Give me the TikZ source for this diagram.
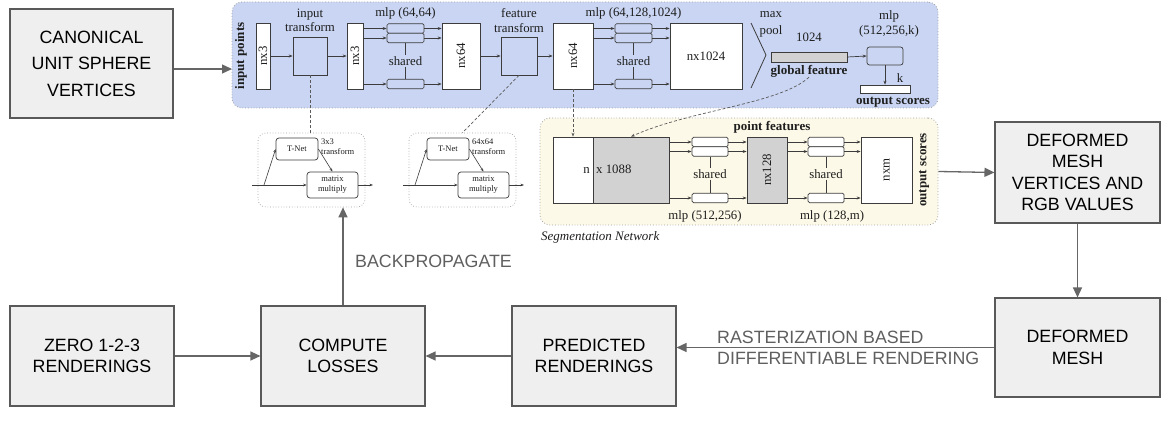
\documentclass[tikz,border=0pt]{standalone}
\usepackage{fontspec}
\setmainfont{Liberation Serif}
\newfontfamily\gsans{Liberation Sans}
\usetikzlibrary{arrows.meta}
\definecolor{bluebg}{RGB}{201,213,242}
\definecolor{yellowbg}{RGB}{253,249,232}
\definecolor{boxfill}{RGB}{239,239,239}
\definecolor{boxborder}{RGB}{89,89,89}
\definecolor{arrowgray}{RGB}{102,102,102}
\definecolor{labelgray}{RGB}{95,95,95}
\definecolor{regionborder}{RGB}{160,160,160}
\definecolor{pnline}{RGB}{60,60,60}
\definecolor{pntext}{RGB}{30,30,30}
\definecolor{pngray}{RGB}{210,210,210}
\definecolor{dashgray}{RGB}{90,90,90}
\tikzset{
  mainbox/.style={draw=boxborder, fill=boxfill, line width=1.1pt, align=center, inner sep=0pt, text=black, font=\gsans\fontsize{17.8}{21.5}\selectfont},
  flow/.style={draw=arrowgray, line width=1.3pt, -{Triangle[length=10pt,width=9pt]}},
  flowlabel/.style={text=labelgray, font=\gsans\fontsize{17.8}{21}\selectfont, align=left, inner sep=0pt},
  region/.style={draw=regionborder, dotted, line width=0.8pt, rounded corners=10pt, inner sep=0pt},
  pbox/.style={draw=pnline, line width=0.7pt, fill=white, inner sep=0pt},
  pmini/.style={pbox, rounded corners=1.5pt, minimum width=37, minimum height=9.5},
  pline/.style={draw=pnline, line width=0.8pt},
  parrow/.style={draw=pnline, line width=0.7pt, -{Stealth[length=4pt,width=3pt]}},
  ptext/.style={font=\fontsize{12.8}{14.5}\selectfont, inner sep=0pt, text=pntext, align=center},
  pbold/.style={font=\bfseries\fontsize{13}{15}\selectfont, inner sep=0pt, text=pntext},
  tnfont/.style={font=\fontsize{8.5}{10}\selectfont, inner sep=0pt, text=pntext, align=center},
  tnbox/.style={pbox, rounded corners=3pt, tnfont},
  tnframe/.style={draw=regionborder, dotted, line width=0.7pt, rounded corners=8pt, fill=white, minimum width=107, minimum height=74, inner sep=0pt},
  tarrow/.style={draw=pnline, line width=0.6pt, -{Stealth[length=3.5pt,width=2.6pt]}},
  dashlink/.style={draw=dashgray, line width=0.7pt, dash pattern=on 3pt off 2pt},
}
\begin{document}
\begin{tikzpicture}[x=1pt,y=-1pt]
\useasboundingbox (0,0) rectangle (1170,430);

% ---------- regions ----------
\node[region, fill=bluebg, minimum width=706, minimum height=106] (blue) at (585,55) {};
\node[region, fill=yellowbg, minimum width=398, minimum height=107] (yellow) at (739,171.5) {};

% ---------- main boxes ----------
\node[mainbox, minimum width=163, minimum height=109, font=\gsans\fontsize{17.8}{26.5}\selectfont] (canon) at (91.5,63.5) {CANONICAL\\UNIT SPHERE\\VERTICES};
\node[mainbox, minimum width=165, minimum height=101] (defv) at (1077.5,172.5) {DEFORMED\\MESH\\VERTICES AND\\RGB VALUES};
\node[mainbox, minimum width=165, minimum height=99] (defm) at (1077.5,347.5) {DEFORMED\\MESH};
\node[mainbox, minimum width=164, minimum height=100, font=\gsans\fontsize{17.8}{20.5}\selectfont] (pred) at (594,356) {PREDICTED\\RENDERINGS};
\node[mainbox, minimum width=164, minimum height=100, font=\gsans\fontsize{17.8}{20.5}\selectfont] (comp) at (343,356) {COMPUTE\\LOSSES};
\node[mainbox, minimum width=164, minimum height=100, font=\gsans\fontsize{17.8}{20.5}\selectfont] (zero) at (92,356) {ZERO 1-2-3\\RENDERINGS};

% ---------- T-Net insets ----------
\node[tnframe] (tn1) at (311.5,170) {};
\node[tnbox, minimum width=42, minimum height=22] (tnet1) at (297,149) {T-Net};
\node[tnbox, minimum width=51, minimum height=26] (mm1) at (332.5,185) {matrix\\multiply};
\coordinate (tin1) at (252,185);
\coordinate (tbr1) at (264,185);
\coordinate (tout1) at (373,185);
\draw[tarrow] (tin1) -- (mm1.west);
\draw[tarrow] (mm1.east) -- (tout1);
\draw[tarrow] (tbr1) -- (tnet1.west);
\draw[tarrow] (tnet1.east) -- (mm1.north);
\node[tnfont, align=left, anchor=north west] (tl1) at (321,139) {3x3\\transform};

\node[tnframe] (tn2) at (462.5,170) {};
\node[tnbox, minimum width=42, minimum height=22] (tnet2) at (448,149) {T-Net};
\node[tnbox, minimum width=51, minimum height=26] (mm2) at (483.5,185) {matrix\\multiply};
\coordinate (tin2) at (403,185);
\coordinate (tbr2) at (415,185);
\coordinate (tout2) at (524,185);
\draw[tarrow] (tin2) -- (mm2.west);
\draw[tarrow] (mm2.east) -- (tout2);
\draw[tarrow] (tbr2) -- (tnet2.west);
\draw[tarrow] (tnet2.east) -- (mm2.north);
\node[tnfont, align=left, anchor=north west] (tl2) at (472,139) {64x64\\transform};

% ---------- classification network (blue) ----------
\node[pbold, rotate=90] (inpts) at (241,56) {input points};
\node[pbox, minimum width=14, minimum height=66] (nxa) at (263,56) {};
\node[ptext, rotate=90] (nxat) at (nxa) {nx3};
\node[ptext] (itfl) at (310,20.5) {input\\transform};
\node[pbox, fill=bluebg, minimum width=34, minimum height=38] (itf) at (310,56) {};
\node[pbox, minimum width=16, minimum height=66] (nxb) at (355,56) {};
\node[ptext, rotate=90] (nxbt) at (nxb) {nx3};
\draw[parrow] (nxa.east) -- (itf.west);
\draw[parrow] (itf.east) -- (nxb.west);

\node[ptext] (mlp1l) at (405.5,13) {mlp (64,64)};
\node[pmini, fill=bluebg] (m1a) at (405.5,28.5) {};
\node[pmini, fill=bluebg] (m1b) at (405.5,38) {};
\node[pmini, fill=bluebg] (m1c) at (405.5,84) {};
\node[ptext, inner sep=1pt] (sh1) at (405.5,61) {shared};
\draw[pline] (m1b.south) -- (sh1.north);
\draw[pline] (sh1.south) -- (m1c.north);
\node[pbox, minimum width=38, minimum height=66] (nxc) at (461,56) {};
\node[ptext, rotate=90] (nxct) at (nxc) {nx64};
\foreach \m in {m1a,m1b,m1c}{
  \draw[parrow] (nxb.east |- \m.west) -- (\m.west);
  \draw[parrow] (\m.east) -- (\m.east -| nxc.west);
}

\node[ptext] (ftfl) at (519,20.5) {feature\\transform};
\node[pbox, fill=bluebg, minimum width=36, minimum height=38] (ftf) at (519,56) {};
\node[pbox, minimum width=40, minimum height=66] (nxd) at (573,56) {};
\node[ptext, rotate=90] (nxdt) at (nxd) {nx64};
\draw[parrow] (nxc.east) -- (ftf.west);
\draw[parrow] (ftf.east) -- (nxd.west);

\node[ptext] (mlp2l) at (633.5,13) {mlp (64,128,1024)};
\node[pmini, fill=bluebg] (m2a) at (633.5,28.5) {};
\node[pmini, fill=bluebg] (m2b) at (633.5,38) {};
\node[pmini, fill=bluebg] (m2c) at (633.5,84) {};
\node[ptext, inner sep=1pt] (sh2) at (633.5,61) {shared};
\draw[pline] (m2b.south) -- (sh2.north);
\draw[pline] (sh2.south) -- (m2c.north);
\node[pbox, minimum width=72, minimum height=66] (nxe) at (706,56) {};
\node[ptext] (nxet) at (nxe) {nx1024};
\foreach \m in {m2a,m2b,m2c}{
  \draw[parrow] (nxd.east |- \m.west) -- (\m.west);
  \draw[parrow] (\m.east) -- (\m.east -| nxe.west);
}

\draw[pline] (751,23) -- (766,55) -- (751,88);
\node[ptext] (maxl) at (771,15) {max};
\node[ptext] (pooll) at (771,31) {pool};
\node[ptext] (k1024) at (809,37) {1024};
\node[pbox, fill=pngray, minimum width=76, minimum height=10] (gbar) at (809,57) {};
\node[pbold] (gf) at (809,71) {global feature};
\node[ptext] (mlp3l) at (889,24) {mlp\\(512,256,k)};
\node[pbox, fill=bluebg, rounded corners=2.5pt, minimum width=36, minimum height=18] (m3) at (885,56) {};
\node[pbox, minimum width=50, minimum height=8] (outb) at (885,89) {};
\node[ptext] (kl) at (900,78) {k};
\node[pbold] (outl) at (893,102) {output scores};
\draw[parrow] (gbar.east) -- (m3.west);
\draw[parrow] (m3.south) -- (outb.north);

% ---------- segmentation network (yellow) ----------
\node[pbold] (pfl) at (772,127) {point features};
\node[pbox, minimum width=40, minimum height=66] (bigw) at (573,170) {};
\node[pbox, fill=pngray, minimum width=76, minimum height=66] (bigg) at (631,170) {};
\node[ptext, anchor=base east] (nl) at (590,174) {n};
\node[ptext, anchor=base west] (xl) at (596,174) {x 1088};

\node[pmini, minimum width=36] (s1a) at (710,142) {};
\node[pmini, minimum width=36] (s1b) at (710,151.5) {};
\node[pmini, minimum width=36] (s1c) at (710,198) {};
\node[ptext, inner sep=1pt] (sh3) at (710,174) {shared};
\draw[pline] (s1b.south) -- (sh3.north);
\draw[pline] (sh3.south) -- (s1c.north);
\node[pbox, fill=pngray, minimum width=40, minimum height=66] (nx128) at (767,170) {};
\node[ptext, rotate=90] (nx128t) at (nx128) {nx128};
\foreach \m in {s1a,s1b,s1c}{
  \draw[parrow] (bigg.east |- \m.west) -- (\m.west);
  \draw[parrow] (\m.east) -- (\m.east -| nx128.west);
}
\node[pmini, minimum width=36] (s2a) at (826,142) {};
\node[pmini, minimum width=36] (s2b) at (826,151.5) {};
\node[pmini, minimum width=36] (s2c) at (826,198) {};
\node[ptext, inner sep=1pt] (sh4) at (826,174) {shared};
\draw[pline] (s2b.south) -- (sh4.north);
\draw[pline] (sh4.south) -- (s2c.north);
\node[pbox, minimum width=51, minimum height=66] (nxm) at (886.5,170) {};
\node[ptext, rotate=90] (nxmt) at (nxm) {nxm};
\foreach \m in {s2a,s2b,s2c}{
  \draw[parrow] (nx128.east |- \m.west) -- (\m.west);
  \draw[parrow] (\m.east) -- (\m.east -| nxm.west);
}
\node[pbold, rotate=90] (outl2) at (924,170) {output scores};
\node[ptext] (mlp4l) at (705,216) {mlp (512,256)};
\node[ptext] (mlp5l) at (832,216) {mlp (128,m)};
\node[ptext, font=\itshape\fontsize{13}{15}\selectfont, anchor=west] (segl) at (541,237) {Segmentation Network};

% ---------- dashed links ----------
\draw[dashlink] (itf.south) -- (itf.south |- tn1.north);
\draw[dashlink] (ftf.south) -- (tn2.north);
\draw[dashlink, -{Stealth[length=4pt,width=3pt]}] (nxd.south) -- (bigw.north);
\draw[dashlink, -{Stealth[length=4pt,width=3pt]}] (gf.south) .. controls (780,104) and (690,110) .. (bigg.north);

% ---------- flow arrows ----------
\coordinate (inpt) at (232,69);
\draw[flow] (canon.east |- inpt) -- (inpt);
\draw[flow] (yellow.east) -- (defv.west);
\draw[flow] (defv.south) -- (defm.north);
\draw[flow] (defm.west) -- (defm.west -| pred.east);
\draw[flow] (pred.west) -- (comp.east);
\draw[flow] (zero.east) -- (comp.west);
\draw[flow] (comp.north) -- (comp.north |- tn1.south);

\node[flowlabel, anchor=west] (raster) at (717,347.5) {RASTERIZATION BASED\\DIFFERENTIABLE RENDERING};
\node[flowlabel, anchor=west] (backp) at (355,261) {BACKPROPAGATE};
\end{tikzpicture}
\end{document}
